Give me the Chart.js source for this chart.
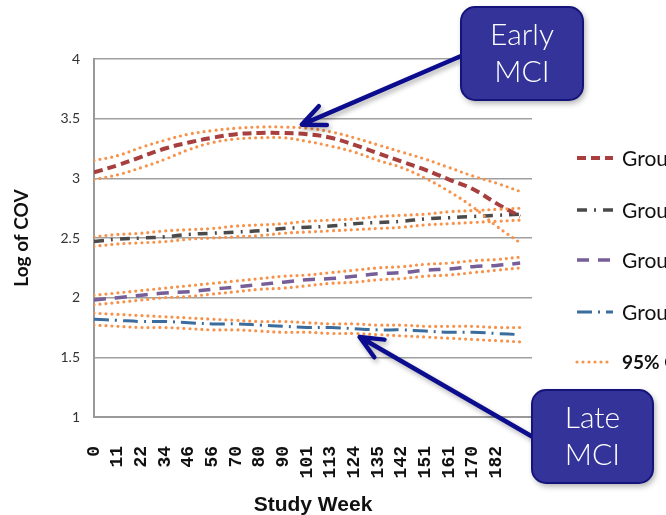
<!DOCTYPE html>
<html>
<head>
<meta charset="utf-8">
<script src="https://cdn.jsdelivr.net/npm/chart.js@4.4.1/dist/chart.umd.min.js"></script>
<style>
  html, body { margin:0; padding:0; background:#fff; overflow:hidden; }
  #wrap { width:666px; height:515px; }
</style>
</head>
<body>
<div id="wrap"><canvas id="myChart" width="666" height="515"></canvas></div>
<script>
// study weeks shown on the x axis (last point has no label)
var weekLabels = ['0','11','22','34','46','56','70','80','90','101','113','124','135','142','151','161','170','182'];

var group1 = [3.05,3.11,3.18,3.25,3.30,3.34,3.37,3.38,3.38,3.37,3.34,3.28,3.21,3.14,3.07,2.99,2.91,2.79,2.68];
var group1Upper = [3.15,3.19,3.26,3.32,3.37,3.40,3.42,3.43,3.43,3.42,3.39,3.34,3.28,3.22,3.16,3.09,3.02,2.96,2.89];
var group1Lower = [2.99,3.03,3.09,3.16,3.24,3.30,3.33,3.34,3.34,3.31,3.27,3.22,3.15,3.09,3.00,2.89,2.76,2.60,2.46];

var group2 = [2.47,2.49,2.50,2.51,2.53,2.54,2.55,2.56,2.58,2.59,2.60,2.62,2.63,2.64,2.66,2.67,2.68,2.69,2.70];
var group2Upper = [2.51,2.53,2.54,2.56,2.57,2.58,2.60,2.61,2.62,2.64,2.65,2.66,2.68,2.69,2.70,2.72,2.73,2.74,2.75];
var group2Lower = [2.43,2.45,2.46,2.47,2.49,2.50,2.51,2.52,2.54,2.55,2.56,2.57,2.58,2.59,2.61,2.62,2.63,2.64,2.65];

var group3 = [1.98,2.00,2.02,2.04,2.05,2.07,2.09,2.11,2.13,2.15,2.16,2.18,2.20,2.21,2.23,2.24,2.26,2.27,2.29];
var group3Upper = [2.02,2.04,2.06,2.08,2.10,2.12,2.14,2.16,2.18,2.19,2.21,2.23,2.25,2.26,2.28,2.29,2.31,2.32,2.34];
var group3Lower = [1.94,1.96,1.98,2.00,2.01,2.03,2.05,2.07,2.08,2.10,2.12,2.13,2.15,2.16,2.18,2.19,2.21,2.23,2.25];

var group4 = [1.82,1.81,1.80,1.80,1.79,1.78,1.78,1.77,1.76,1.75,1.75,1.74,1.73,1.73,1.72,1.71,1.71,1.70,1.69];
var group4Upper = [1.87,1.86,1.85,1.84,1.83,1.82,1.81,1.80,1.80,1.79,1.78,1.78,1.77,1.77,1.76,1.76,1.76,1.75,1.75];
var group4Lower = [1.77,1.76,1.75,1.75,1.74,1.73,1.73,1.72,1.71,1.71,1.70,1.70,1.69,1.68,1.67,1.66,1.65,1.64,1.63];

var yTicks = [1,1.5,2,2.5,3,3.5,4];

var ciColor = '#f7924a';

function toXY(arr) {
    return arr.map(function(v, i){ return {x:i, y:v}; });
}

function ciSet(arr, showLegend) {
    return {
        data: toXY(arr),
        legendLabel: showLegend ? '95% CI' : null,
        borderColor: ciColor,
        borderWidth: 3.2,
        borderDash: [0, 6],
        borderCapStyle: 'round',
        pointRadius: 0,
        tension: 0.4,
        fill: false
    };
}

var datasets = [
    ciSet(group1Upper, false), ciSet(group1Lower, false),
    ciSet(group2Upper, false), ciSet(group2Lower, false),
    ciSet(group3Upper, false), ciSet(group3Lower, false),
    ciSet(group4Upper, false), ciSet(group4Lower, true),
    {data: toXY(group1), legendLabel:'Group 1', borderColor:'#a63f3d', borderWidth:4, borderDash:[9,5], pointRadius:0, tension:0.4},
    {data: toXY(group2), legendLabel:'Group 2', borderColor:'#4a4a4a', borderWidth:3.5, borderDash:[10,7,2,7], pointRadius:0, tension:0.4},
    {data: toXY(group3), legendLabel:'Group 3', borderColor:'#765e98', borderWidth:3.5, borderDash:[12,9], pointRadius:0, tension:0.4},
    {data: toXY(group4), legendLabel:'Group 4', borderColor:'#3b6c9e', borderWidth:3, borderDash:[15,6,2,6], pointRadius:0, tension:0.4}
];

// legend on the right, clipped by the page edge like the original
var sideLegend = {
    id: 'sideLegend',
    afterDraw: function(chart) {
        var ctx = chart.ctx;
        var order = ['Group 1','Group 2','Group 3','Group 4','95% CI'];
        var ys = [158, 210, 260, 312, 362];
        order.forEach(function(name, k){
            var ds = chart.data.datasets.find(function(d){ return d.legendLabel === name; });
            var y = ys[k];
            ctx.save();
            ctx.strokeStyle = ds.borderColor;
            ctx.lineWidth = ds.borderWidth;
            ctx.lineCap = ds.borderCapStyle || 'butt';
            ctx.setLineDash(ds.borderDash);
            ctx.beginPath();
            ctx.moveTo(577, y);
            ctx.lineTo(613, y);
            ctx.stroke();
            ctx.setLineDash([]);
            ctx.fillStyle = '#111';
            ctx.font = name === '95% CI' ? 'bold 19px Lato' : '21px Lato';
            ctx.textBaseline = 'middle';
            ctx.fillText(name, 622, y + 1);
            ctx.restore();
        });
    }
};

function arrow(ctx, x0, y0, x1, y1) {
    var a = Math.atan2(y0 - y1, x0 - x1);
    var len = 25, spread = 0.42;
    ctx.beginPath();
    ctx.moveTo(x0, y0);
    ctx.lineTo(x1, y1);
    ctx.moveTo(x1 + len * Math.cos(a - spread), y1 + len * Math.sin(a - spread));
    ctx.lineTo(x1, y1);
    ctx.lineTo(x1 + len * Math.cos(a + spread), y1 + len * Math.sin(a + spread));
    ctx.stroke();
}

function box(ctx, x, y, w, h, lines) {
    ctx.save();
    ctx.shadowColor = 'rgba(0,0,0,0.35)';
    ctx.shadowBlur = 6;
    ctx.shadowOffsetX = 2;
    ctx.shadowOffsetY = 3;
    ctx.fillStyle = '#333399';
    ctx.beginPath();
    ctx.roundRect(x, y, w, h, 14);
    ctx.fill();
    ctx.shadowColor = 'transparent';
    ctx.strokeStyle = '#14147a';
    ctx.lineWidth = 2;
    ctx.stroke();
    ctx.fillStyle = '#ffffff';
    ctx.font = '300 30px Lato';
    ctx.textAlign = 'center';
    ctx.textBaseline = 'middle';
    ctx.fillText(lines[0], x + w / 2, y + h / 2 - 18);
    ctx.fillText(lines[1], x + w / 2, y + h / 2 + 19);
    ctx.restore();
}

var callouts = {
    id: 'callouts',
    afterDraw: function(chart) {
        var ctx = chart.ctx;
        var sx = chart.scales.x, sy = chart.scales.y;
        ctx.save();
        ctx.strokeStyle = '#0c0c8e';
        ctx.lineWidth = 4.5;
        ctx.lineCap = 'round';
        ctx.lineJoin = 'round';
        ctx.shadowColor = 'rgba(0,0,0,0.3)';
        ctx.shadowBlur = 5;
        ctx.shadowOffsetX = 2;
        ctx.shadowOffsetY = 3;
        arrow(ctx, 475, 50, sx.getPixelForValue(8.78), sy.getPixelForValue(3.45));
        arrow(ctx, 545, 444, sx.getPixelForValue(11.22), sy.getPixelForValue(1.67));
        ctx.restore();
        box(ctx, 461, 7, 122, 93, ['Early', 'MCI']);
        box(ctx, 532, 390, 121, 93, ['Late', 'MCI']);
    }
};

new Chart('myChart', {
    type: 'line',
    data: { datasets: datasets },
    plugins: [sideLegend, callouts],
    options: {
        responsive: false,
        animation: false,
        layout: { padding: { top: 59, right: 134, left: 0, bottom: 0 } },
        plugins: { legend: { display: false }, tooltip: { enabled: false } },
        scales: {
            x: {
                type: 'linear', min: 0, max: 18.5,
                afterFit: function(s){ s.height = 98; },
                grid: { display: false, drawTicks: false },
                border: { color: '#999', width: 2 },
                ticks: {
                    stepSize: 1, autoSkip: false, minRotation: 90, maxRotation: 90, padding: 29,
                    color: '#111',
                    font: { family: 'Liberation Mono', weight: 'bold', size: 18 },
                    callback: function(v){ return weekLabels[v] || ''; }
                },
                title: {
                    display: true, text: 'Study Week', color: '#111', padding: { top: 0, bottom: -3 },
                    font: { family: 'Liberation Sans', weight: 'bold', size: 21 }
                }
            },
            y: {
                min: yTicks[0], max: yTicks[yTicks.length - 1],
                afterFit: function(s){ s.width = 94; },
                grid: { color: '#a0a0a0', lineWidth: 1.5, drawTicks: false },
                border: { color: '#999', width: 2 },
                ticks: {
                    stepSize: 0.5, padding: 14, color: '#333',
                    font: { family: 'Lato', size: 14 },
                    callback: function(v){ return String(v); }
                },
                title: {
                    display: true, text: 'Log of COV', color: '#111', padding: { top: 10, bottom: 0 },
                    font: { family: 'Lato', weight: 'bold', size: 19 }
                }
            }
        }
    }
});
</script>
</body>
</html>
